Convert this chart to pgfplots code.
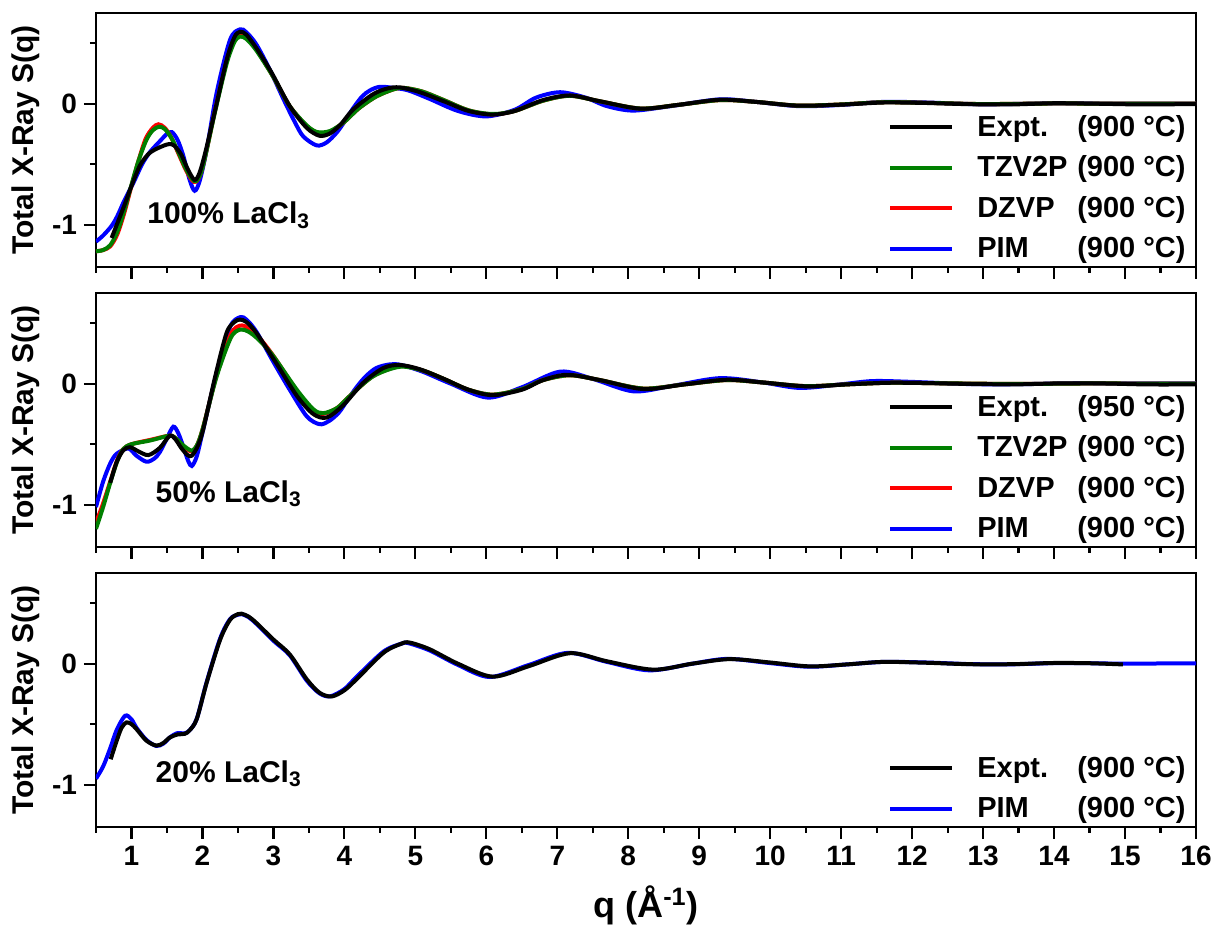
\documentclass[border=0pt]{standalone}
\usepackage{fontspec}
\setmainfont{Liberation Sans}
\usepackage{pgfplots}
\usepackage{pgfplotstable}
\pgfplotsset{compat=1.18}

\definecolor{dgreen}{rgb}{0,0.5,0}

% ---- 100% LaCl3 ----
\pgfplotstableread{
q S
0.72 -1.11
0.80 -0.99
0.90 -0.84
1.00 -0.68
1.12 -0.51
1.25 -0.41
1.40 -0.36
1.52 -0.335
1.60 -0.345
1.70 -0.42
1.80 -0.55
1.89 -0.63
1.96 -0.57
2.05 -0.38
2.18 -0.05
2.34 0.36
2.45 0.55
2.53 0.595
2.62 0.57
2.76 0.46
2.90 0.33
3.00 0.23
3.23 -0.02
3.47 -0.20
3.65 -0.265
3.80 -0.245
3.95 -0.17
4.12 -0.05
4.40 0.077
4.60 0.125
4.78 0.135
5.06 0.096
5.40 0.02
5.75 -0.06
6.09 -0.09
6.40 -0.06
6.80 0.03
7.18 0.068
7.60 0.02
8.17 -0.041
8.70 -0.01
9.29 0.033
9.80 0.015
10.38 -0.016
11.00 -0.008
11.60 0.01
12.20 0.006
12.80 -0.004
13.40 -0.006
14.00 0.004
14.60 0.000
15.20 -0.006
15.80 -0.004
16.00 -0.003
}\expA
\pgfplotstableread{
q S
0.50 -1.22
0.60 -1.21
0.70 -1.17
0.80 -1.06
0.90 -0.88
1.00 -0.67
1.10 -0.47
1.21 -0.30
1.30 -0.22
1.39 -0.19
1.47 -0.21
1.56 -0.28
1.66 -0.40
1.76 -0.53
1.85 -0.62
1.91 -0.64
1.98 -0.57
2.06 -0.38
2.18 -0.06
2.34 0.33
2.45 0.51
2.53 0.555
2.62 0.535
2.76 0.44
3.00 0.22
3.23 -0.02
3.47 -0.18
3.62 -0.235
3.80 -0.225
4.00 -0.15
4.20 -0.04
4.45 0.06
4.70 0.12
4.85 0.13
5.10 0.10
5.40 0.03
5.75 -0.055
6.09 -0.085
6.40 -0.06
6.80 0.025
7.18 0.065
7.60 0.02
8.17 -0.04
8.70 -0.01
9.30 0.03
9.80 0.015
10.40 -0.016
11.00 -0.006
11.60 0.012
12.30 0.006
13.00 -0.003
14.00 0.002
15.00 0.000
16.00 0.000
}\tzvA
\pgfplotstableread{
q S
0.50 -1.22
0.60 -1.21
0.70 -1.18
0.80 -1.08
0.90 -0.90
1.00 -0.68
1.10 -0.47
1.20 -0.29
1.30 -0.20
1.38 -0.17
1.47 -0.20
1.56 -0.28
1.66 -0.41
1.76 -0.54
1.85 -0.63
1.91 -0.645
1.98 -0.57
2.06 -0.38
2.18 -0.05
2.34 0.35
2.45 0.54
2.53 0.58
2.62 0.56
2.76 0.45
3.00 0.22
3.23 -0.02
3.47 -0.185
3.63 -0.24
3.80 -0.23
4.00 -0.15
4.20 -0.04
4.45 0.06
4.70 0.12
4.85 0.13
5.10 0.10
5.40 0.03
5.75 -0.055
6.09 -0.088
6.40 -0.06
6.80 0.025
7.18 0.066
7.60 0.02
8.17 -0.04
8.70 -0.01
9.30 0.03
9.80 0.015
10.40 -0.016
11.00 -0.006
11.60 0.012
12.30 0.006
13.00 -0.003
14.00 0.002
15.00 0.000
16.00 0.000
}\dzvA
\pgfplotstableread{
q S
0.50 -1.14
0.60 -1.09
0.72 -1.01
0.80 -0.93
0.90 -0.80
1.03 -0.65
1.15 -0.50
1.26 -0.40
1.40 -0.31
1.50 -0.25
1.57 -0.235
1.65 -0.30
1.73 -0.43
1.82 -0.63
1.89 -0.72
1.96 -0.64
2.06 -0.38
2.20 0.09
2.39 0.53
2.53 0.615
2.62 0.59
2.76 0.49
2.95 0.28
3.14 0.04
3.30 -0.15
3.42 -0.27
3.61 -0.345
3.75 -0.32
3.89 -0.24
4.00 -0.15
4.12 -0.04
4.25 0.06
4.36 0.11
4.50 0.14
4.70 0.13
4.90 0.11
5.20 0.04
5.60 -0.06
6.00 -0.105
6.40 -0.05
6.70 0.05
7.04 0.095
7.40 0.05
7.70 -0.02
8.07 -0.057
8.60 -0.02
9.29 0.036
9.80 0.015
10.40 -0.02
11.00 -0.01
11.60 0.015
12.20 0.01
13.00 -0.005
14.00 0.003
15.00 0.000
16.00 0.000
}\pimA

% ---- 50% LaCl3 ----
\pgfplotstableread{
q S
0.70 -0.82
0.79 -0.65
0.885 -0.55
0.98 -0.525
1.10 -0.56
1.24 -0.59
1.40 -0.53
1.54 -0.43
1.62 -0.46
1.70 -0.53
1.79 -0.59
1.85 -0.595
1.93 -0.52
2.01 -0.38
2.18 0.06
2.34 0.42
2.45 0.51
2.53 0.53
2.62 0.51
2.76 0.42
3.04 0.17
3.33 -0.10
3.56 -0.25
3.75 -0.28
3.98 -0.18
4.27 0.01
4.55 0.13
4.78 0.155
5.06 0.12
5.40 0.04
5.75 -0.05
6.09 -0.095
6.50 -0.05
6.80 0.03
7.14 0.074
7.60 0.03
8.21 -0.044
8.80 -0.005
9.39 0.033
9.90 0.01
10.52 -0.022
11.10 -0.005
11.70 0.008
12.30 0.004
12.90 -0.003
13.50 -0.005
14.10 0.003
14.70 0.002
15.30 -0.006
15.90 -0.006
16.00 -0.004
}\expB
\pgfplotstableread{
q S
0.50 -1.20
0.60 -1.02
0.70 -0.82
0.80 -0.64
0.885 -0.54
1.00 -0.50
1.26 -0.47
1.54 -0.43
1.64 -0.46
1.73 -0.51
1.85 -0.553
1.93 -0.50
2.01 -0.36
2.20 0.06
2.40 0.38
2.53 0.447
2.65 0.43
2.80 0.36
3.00 0.227
3.33 -0.05
3.56 -0.21
3.70 -0.244
3.90 -0.20
4.08 -0.10
4.41 0.063
4.78 0.14
5.10 0.11
5.40 0.04
5.75 -0.05
6.09 -0.09
6.50 -0.045
6.80 0.03
7.18 0.07
7.60 0.03
8.21 -0.04
8.80 -0.005
9.39 0.03
9.90 0.01
10.50 -0.02
11.10 -0.005
11.70 0.008
12.50 0.003
13.50 -0.002
14.50 0.002
16.00 0.000
}\tzvB
\pgfplotstableread{
q S
0.50 -1.15
0.60 -0.99
0.70 -0.81
0.80 -0.63
0.885 -0.54
1.00 -0.50
1.26 -0.465
1.54 -0.43
1.64 -0.46
1.73 -0.52
1.85 -0.56
1.93 -0.50
2.01 -0.36
2.20 0.07
2.40 0.41
2.53 0.48
2.65 0.46
2.80 0.38
3.00 0.23
3.33 -0.06
3.56 -0.22
3.70 -0.25
3.90 -0.20
4.08 -0.10
4.41 0.065
4.78 0.145
5.10 0.11
5.40 0.04
5.75 -0.05
6.09 -0.09
6.50 -0.045
6.80 0.03
7.18 0.07
7.60 0.03
8.21 -0.04
8.80 -0.005
9.39 0.03
9.90 0.01
10.50 -0.02
11.10 -0.005
11.70 0.008
12.50 0.003
13.50 -0.002
14.50 0.002
16.00 0.000
}\dzvB
\pgfplotstableread{
q S
0.50 -1.02
0.60 -0.81
0.70 -0.66
0.79 -0.58
0.955 -0.535
1.07 -0.595
1.21 -0.645
1.32 -0.62
1.40 -0.565
1.50 -0.45
1.59 -0.355
1.66 -0.41
1.73 -0.52
1.80 -0.64
1.85 -0.68
1.92 -0.60
2.01 -0.38
2.20 0.09
2.39 0.47
2.53 0.55
2.62 0.53
2.76 0.43
3.00 0.18
3.23 -0.05
3.47 -0.27
3.65 -0.335
3.78 -0.31
3.92 -0.24
4.05 -0.13
4.17 -0.03
4.30 0.06
4.45 0.13
4.64 0.16
4.80 0.155
5.10 0.10
5.50 0.00
6.02 -0.115
6.50 -0.03
7.04 0.10
7.50 0.04
8.07 -0.063
8.60 -0.02
9.29 0.046
9.90 0.01
10.42 -0.035
11.00 -0.005
11.45 0.022
12.00 0.015
12.80 -0.003
13.50 -0.004
14.30 0.004
15.00 0.002
16.00 0.002
}\pimB

% ---- 20% LaCl3 ----
\pgfplotstableread{
q S
0.707 -0.79
0.79 -0.64
0.86 -0.53
0.93 -0.485
1.00 -0.50
1.07 -0.54
1.21 -0.636
1.35 -0.677
1.45 -0.655
1.54 -0.61
1.65 -0.585
1.75 -0.58
1.82 -0.55
1.92 -0.457
2.06 -0.156
2.25 0.20
2.39 0.364
2.50 0.41
2.55 0.414
2.65 0.39
2.76 0.337
3.00 0.20
3.23 0.077
3.47 -0.129
3.65 -0.24
3.82 -0.271
4.00 -0.22
4.17 -0.129
4.55 0.09
4.80 0.165
4.92 0.175
5.20 0.12
5.60 0.00
6.09 -0.107
6.60 -0.02
7.18 0.087
7.70 0.02
8.35 -0.049
8.90 0.00
9.43 0.038
10.00 0.01
10.56 -0.022
11.10 -0.005
11.59 0.015
12.20 0.008
12.80 -0.004
13.40 -0.004
14.00 0.006
14.50 0.004
14.97 -0.006
}\expC
\pgfplotstableread{
q S
0.50 -0.95
0.60 -0.85
0.70 -0.70
0.79 -0.55
0.91 -0.43
1.00 -0.46
1.07 -0.53
1.21 -0.63
1.35 -0.68
1.45 -0.66
1.54 -0.61
1.64 -0.575
1.75 -0.575
1.82 -0.55
1.92 -0.455
2.06 -0.15
2.25 0.21
2.39 0.37
2.50 0.405
2.55 0.41
2.65 0.385
2.76 0.33
3.00 0.19
3.23 0.07
3.47 -0.14
3.65 -0.245
3.80 -0.27
4.00 -0.21
4.17 -0.11
4.55 0.10
4.80 0.165
4.90 0.17
5.20 0.11
5.60 -0.01
6.05 -0.11
6.60 -0.01
7.15 0.09
7.70 0.015
8.30 -0.055
8.90 0.00
9.40 0.04
10.00 0.005
10.55 -0.025
11.10 -0.005
11.60 0.015
12.20 0.01
12.80 -0.003
13.40 -0.005
14.00 0.005
14.50 0.004
15.00 0.000
15.50 0.002
16.00 0.003
}\pimC

\pgfplotsset{
  sq panel/.style={
    scale only axis, width=550pt, height=127pt,
    xmin=0.5, xmax=16, ymin=-1.35, ymax=0.75,
    xtick={1,...,16}, minor xtick={0.5,1.5,...,15.5},
    ytick={-1,0}, yticklabels={-1,0}, minor ytick={-0.5,0.5},
    tick pos=left, tick align=outside,
    major tick length=6pt, minor tick length=3pt,
    axis line style={line width=1.3pt},
    every tick/.style={black, line width=1.1pt},
    /pgf/number format/assume math mode=true,
    tick label style={font=\bfseries\fontsize{14}{14}\selectfont},
    ylabel={Total X-Ray S(q)},
    ylabel style={font=\bfseries\fontsize{15}{15}\selectfont,
      at={(axis description cs:-0.064,0.5)}, anchor=center},
    legend cell align=left,
    reverse legend,
    legend image code/.code={\draw[##1] (0pt,0pt) -- (31pt,0pt);},
    legend style={draw=none, fill=none, at={(rel axis cs:1.0,-0.008)},
      anchor=south east, font=\bfseries\fontsize{14.5}{14.5}\selectfont,
      row sep=4.2pt, column sep=9.5pt},
  },
  cv/.style={smooth, line width=2pt, no marks},
}
\newcommand{\lab}[2]{\makebox[50pt][l]{#1}(#2 °C)}

\begin{document}
\begin{tikzpicture}[font=\bfseries]
\useasboundingbox (-48pt,6.5pt) rectangle (560.5pt,-461pt);

\begin{axis}[sq panel, at={(0,0)}, anchor=north west, xticklabels={}]
  \addplot[cv, blue] table {\pimA}; \addlegendentry{\lab{PIM}{900}}
  \addplot[cv, red] table {\dzvA}; \addlegendentry{\lab{DZVP}{900}}
  \addplot[cv, dgreen] table {\tzvA}; \addlegendentry{\lab{TZV2P}{900}}
  \addplot[cv, black] table {\expA}; \addlegendentry{\lab{Expt.}{900}}
  \node[font=\bfseries\fontsize{15}{15}\selectfont] at (axis cs:2.37,-0.92) {100\% LaCl\textsubscript{3}};
\end{axis}

\begin{axis}[sq panel, at={(0,-140pt)}, anchor=north west, xticklabels={}]
  \addplot[cv, blue] table {\pimB}; \addlegendentry{\lab{PIM}{900}}
  \addplot[cv, red] table {\dzvB}; \addlegendentry{\lab{DZVP}{900}}
  \addplot[cv, dgreen] table {\tzvB}; \addlegendentry{\lab{TZV2P}{900}}
  \addplot[cv, black] table {\expB}; \addlegendentry{\lab{Expt.}{950}}
  \node[font=\bfseries\fontsize{15}{15}\selectfont] at (axis cs:2.37,-0.91) {50\% LaCl\textsubscript{3}};
\end{axis}

\begin{axis}[sq panel, at={(0,-280pt)}, anchor=north west,
    xlabel={q (Å\textsuperscript{-1})},
    xlabel style={font=\bfseries\fontsize{18}{18}\selectfont,
      at={(axis description cs:0.5,-0.31)}, anchor=center}]
  \addplot[cv, blue] table {\pimC}; \addlegendentry{\lab{PIM}{900}}
  \addplot[cv, black] table {\expC}; \addlegendentry{\lab{Expt.}{900}}
  \node[font=\bfseries\fontsize{15}{15}\selectfont] at (axis cs:2.37,-0.91) {20\% LaCl\textsubscript{3}};
\end{axis}
\end{tikzpicture}
\end{document}
